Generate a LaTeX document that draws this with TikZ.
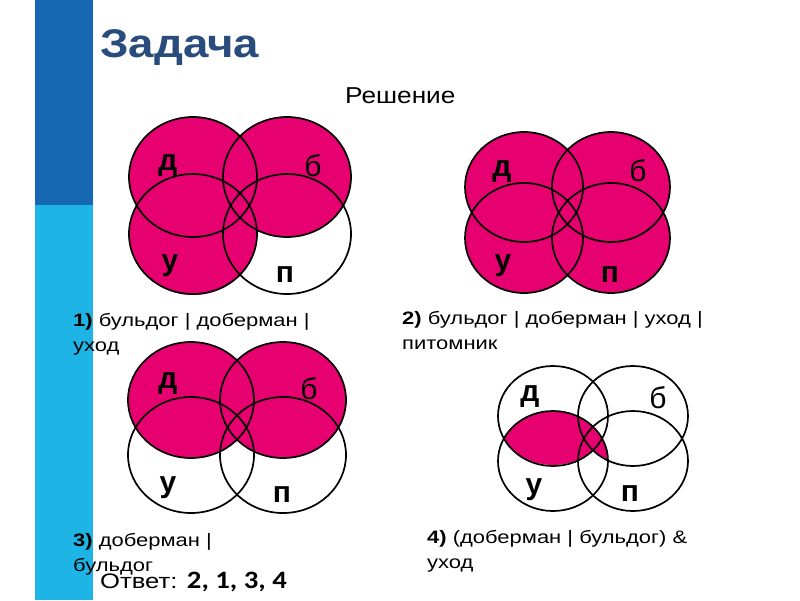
\documentclass[tikz,border=0pt]{standalone}
\usepackage{fontspec}
\setmainfont{Liberation Sans}
\newfontfamily\capfont[FakeStretch=1.22]{Liberation Sans}
\newfontfamily\wordfont[FakeStretch=1.14]{Liberation Sans}
\newfontfamily\numfont[FakeStretch=1.15]{Carlito}
\definecolor{vennpink}{RGB}{230,0,112}
\definecolor{bardark}{RGB}{22,104,176}
\definecolor{barlight}{RGB}{30,180,230}
\definecolor{titleblue}{RGB}{40,76,124}

\begin{document}
\begin{tikzpicture}[x=1pt,y=-1pt,
        setline/.style={draw=black,line width=1.7pt},
        setfill/.style={fill=vennpink},
        setname/.style={inner sep=0pt,font=\fontsize{30}{30}\selectfont\bfseries},
        setthin/.style={inner sep=0pt,font=\fontsize{30}{30}\selectfont},
        caption/.style={anchor=base west,align=left,inner sep=0pt,
            font=\capfont\fontsize{18}{25}\selectfont}
    ]

    \useasboundingbox[fill=white] (0,0) rectangle (800,600);

    % side bars
    \fill[bardark] (35,0) rectangle (93,205);
    \fill[barlight] (35,205) rectangle (93,600);

    \node[anchor=base west,inner sep=0pt,text=titleblue,
        font=\wordfont\fontsize{40}{40}\selectfont\bfseries] (title) at (100,57) {Задача};
    \node[anchor=base west,inner sep=0pt,
        font=\wordfont\fontsize{23}{23}\selectfont] (solution) at (345,103) {Решение};

    % 1) Д, Б, У filled
    \fill[setfill] (193,177) ellipse [x radius=64pt,y radius=60pt]
                   (287,177) ellipse [x radius=64pt,y radius=60pt]
                   (193,234) ellipse [x radius=64pt,y radius=61pt];
    \foreach \cx/\cy in {193/177,287/177,193/234,287/234}
        \draw[setline] (\cx,\cy) ellipse [x radius=64pt,y radius=60pt];
    \node[setname] (d1) at (168,166) {д};
    \node[setthin] (b1) at (313,166) {б};
    \node[setname] (u1) at (170,266) {у};
    \node[setname] (p1) at (285,275) {п};

    % 2) all four filled
    \foreach \cx/\cy in {524/187,611/187,524/238,611/238}
        \fill[setfill] (\cx,\cy) ellipse [x radius=59pt,y radius=55pt];
    \foreach \cx/\cy in {524/187,611/187,524/238,611/238}
        \draw[setline] (\cx,\cy) ellipse [x radius=59pt,y radius=55pt];
    \node[setname] (d2) at (502,172) {д};
    \node[setthin] (b2) at (638,171) {б};
    \node[setname] (u2) at (503,266) {у};
    \node[setname] (p2) at (610,275) {п};

    % 3) Д, Б filled
    \fill[setfill] (191,400) ellipse [x radius=63pt,y radius=58pt]
                   (283,400) ellipse [x radius=63pt,y radius=58pt];
    \foreach \cx/\cy in {191/400,283/400,191/455,283/455}
        \draw[setline] (\cx,\cy) ellipse [x radius=63pt,y radius=58pt];
    \node[setname] (d3) at (168,384) {д};
    \node[setthin] (b3) at (309,389) {б};
    \node[setname] (u3) at (168,488) {у};
    \node[setname] (p3) at (282,495) {п};

    % 4) (Д | Б) & У
    \begin{scope}
        \clip (553,461) ellipse [x radius=55pt,y radius=50pt];
        \fill[setfill] (553,416) ellipse [x radius=55pt,y radius=49pt]
                       (633,416) ellipse [x radius=55pt,y radius=49pt];
    \end{scope}
    \foreach \cx/\cy in {553/416,633/416,553/461,633/461}
        \draw[setline] (\cx,\cy) ellipse [x radius=55pt,y radius=50pt];
    \node[setname] (d4) at (530,397) {д};
    \node[setthin] (b4) at (658,398) {б};
    \node[setname] (u4) at (534,490) {у};
    \node[setname] (p4) at (630,494) {п};

    % captions (base = last line)
    \node[caption] (cap1) at (73,351) {\textbf{1)} бульдог | доберман |\\уход};
    \node[caption] (cap2) at (402,349) {\textbf{2)} бульдог | доберман | уход |\\питомник};
    \node[caption] (cap3) at (73,571) {\textbf{3)} доберман |\\бульдог};
    \node[caption] (cap4) at (427,568) {\textbf{4)} (доберман | бульдог) \&\\уход};

    \node[anchor=base west,inner sep=0pt,font=\capfont\fontsize{21}{21}\selectfont]
        (answer) at (100,588) {Ответ: {\numfont\fontsize{25}{25}\selectfont\bfseries 2, 1, 3, 4}};

\end{tikzpicture}
\end{document}
